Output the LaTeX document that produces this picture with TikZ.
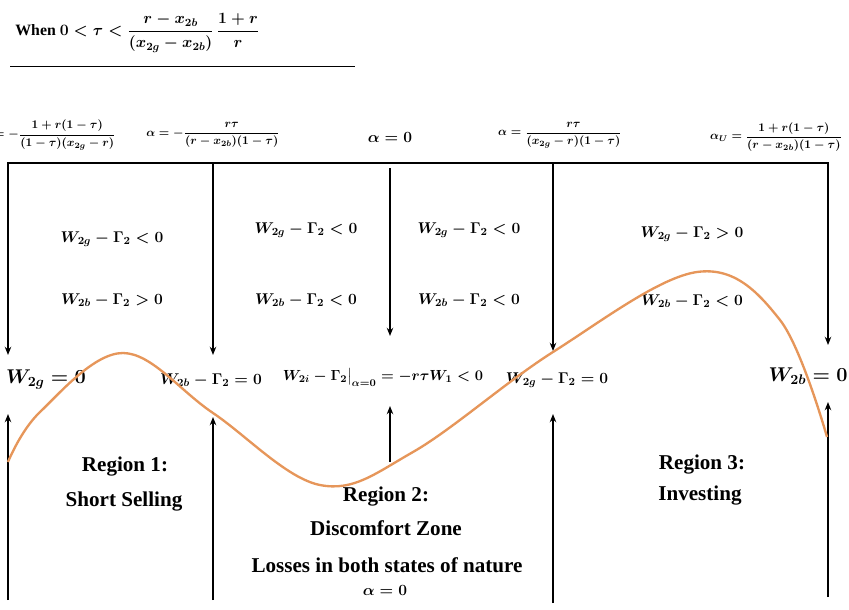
\RequirePackage{fix-cm}
\documentclass[tikz,border=0pt]{standalone}
\usepackage{amsmath}
\usepackage{fontspec}
\setmainfont{Liberation Serif}
\usetikzlibrary{arrows.meta}
\definecolor{curvecol}{RGB}{230,150,90}
\begin{document}
\begin{tikzpicture}[x=0.03cm,y=-0.03cm,
  bar/.style={line width=1.6pt,line cap=rect},
  arr/.style={line width=1.6pt,-{Stealth[length=7pt,width=5.5pt]}},
  lbl/.style={inner sep=1pt,font=\fontsize{13.3}{16}\selectfont\bfseries\boldmath},
  mid/.style={inner sep=1pt,font=\fontsize{12.5}{14}\selectfont\bfseries\boldmath},
  big/.style={inner sep=1pt,font=\fontsize{17}{19}\selectfont\bfseries\boldmath},
  frm/.style={inner sep=1pt,font=\fontsize{10}{12}\selectfont\bfseries\boldmath},
  hdr/.style={inner sep=1pt,font=\fontsize{13.5}{16}\selectfont\bfseries\boldmath},
  reg/.style={inner sep=1pt,font=\fontsize{18}{20}\selectfont\bfseries\boldmath},
  wave/.style={line width=2pt,curvecol}]
\useasboundingbox (0,0) rectangle (849,609);
% header
\node[hdr,anchor=west] (hd) at (14,33) {When $0<\tau<\dfrac{r-x_{2b}}{(x_{2g}-x_{2b})}\,\dfrac{1+r}{r}$};
\coordinate (r0) at (10,66);
\coordinate (r1) at (355,66);
\draw[line width=0.7pt] (r0) -- (r1);
% top formulas
\node[frm,anchor=east] (aL) at (117,135) {$\alpha_{L}=-\dfrac{1+r(1-\tau)}{(1-\tau)(x_{2g}-r)}$};
\node[frm] (a1) at (213,135) {$\alpha=-\dfrac{r\tau}{(r-x_{2b})(1-\tau)}$};
\node[lbl] (a0) at (390,137) {$\alpha=0$};
\node[frm] (a2) at (560,135) {$\alpha=\dfrac{r\tau}{(x_{2g}-r)(1-\tau)}$};
\node[frm] (aU) at (776,137) {$\alpha_{U}=\dfrac{1+r(1-\tau)}{(r-x_{2b})(1-\tau)}$};
% bar and arrows
\coordinate (b0) at (8,163);
\coordinate (b1) at (213,163);
\coordinate (b2) at (390,168);
\coordinate (b3) at (553,163);
\coordinate (b4) at (828,163);
\coordinate (d0) at (8,355);
\coordinate (d1) at (213,355);
\coordinate (d2) at (390,336);
\coordinate (d3) at (553,351);
\coordinate (d4) at (828,345);
\draw[bar] (b0) -- (b4);
\draw[arr] (b0) -- (d0);
\draw[arr] (b1) -- (d1);
\draw[arr] (b2) -- (d2);
\draw[arr] (b3) -- (d3);
\draw[arr] (b4) -- (d4);
\coordinate (u0) at (8,600);
\coordinate (u1) at (213,600);
\coordinate (u2) at (390,462);
\coordinate (u3) at (553,603);
\coordinate (u4) at (828,597);
\coordinate (t0) at (8,414);
\coordinate (t1) at (213,417);
\coordinate (t2) at (390,406);
\coordinate (t3) at (553,414);
\coordinate (t4) at (828,402);
\draw[arr] (u0) -- (t0);
\draw[arr] (u1) -- (t1);
\draw[arr] (u2) -- (t2);
\draw[arr] (u3) -- (t3);
\draw[arr] (u4) -- (t4);
% region conditions
\node[lbl] (c1a) at (112,239) {$W_{2g}-\Gamma_2<0$};
\node[lbl] (c1b) at (112,300) {$W_{2b}-\Gamma_2>0$};
\node[lbl] (c2a) at (306,230) {$W_{2g}-\Gamma_2<0$};
\node[lbl] (c2b) at (306,300) {$W_{2b}-\Gamma_2<0$};
\node[lbl] (c3a) at (469,230) {$W_{2g}-\Gamma_2<0$};
\node[lbl] (c3b) at (469,300) {$W_{2b}-\Gamma_2<0$};
\node[lbl] (c4a) at (692,234) {$W_{2g}-\Gamma_2>0$};
\node[lbl] (c4b) at (692,301) {$W_{2b}-\Gamma_2<0$};
% boundary labels
\node[big] (e0) at (46,380) {$W_{2g}=0$};
\node[lbl] (e1) at (211,380) {$W_{2b}-\Gamma_2=0$};
\node[mid] (e2) at (383,377) {$W_{2i}-\Gamma_2\big|_{\alpha=0}=-r\tau W_1<0$};
\node[lbl] (e3) at (557,380) {$W_{2g}-\Gamma_2=0$};
\node[big] (e4) at (808,376) {$W_{2b}=0$};
% regions
\node[reg] (g1a) at (125,467) {Region 1:};
\node[reg] (g1b) at (124,502) {Short Selling};
\node[reg] (g2a) at (386,497) {Region 2:};
\node[reg] (g2b) at (386,528) {Discomfort Zone};
\node[reg] (g2c) at (387,565) {Losses in both states of nature};
\node[lbl] (g2d) at (385,590) {$\alpha=0$};
\node[reg] (g3a) at (702,465) {Region 3:};
\node[reg] (g3b) at (700,496) {Investing};
% curve
\draw[wave] plot[smooth,tension=0.6] coordinates {(8,462) (40,412) (123,353) (213,413) (320,485) (413,452) (553,352) (697,272) (780,320) (827,437)};
\end{tikzpicture}
\end{document}
